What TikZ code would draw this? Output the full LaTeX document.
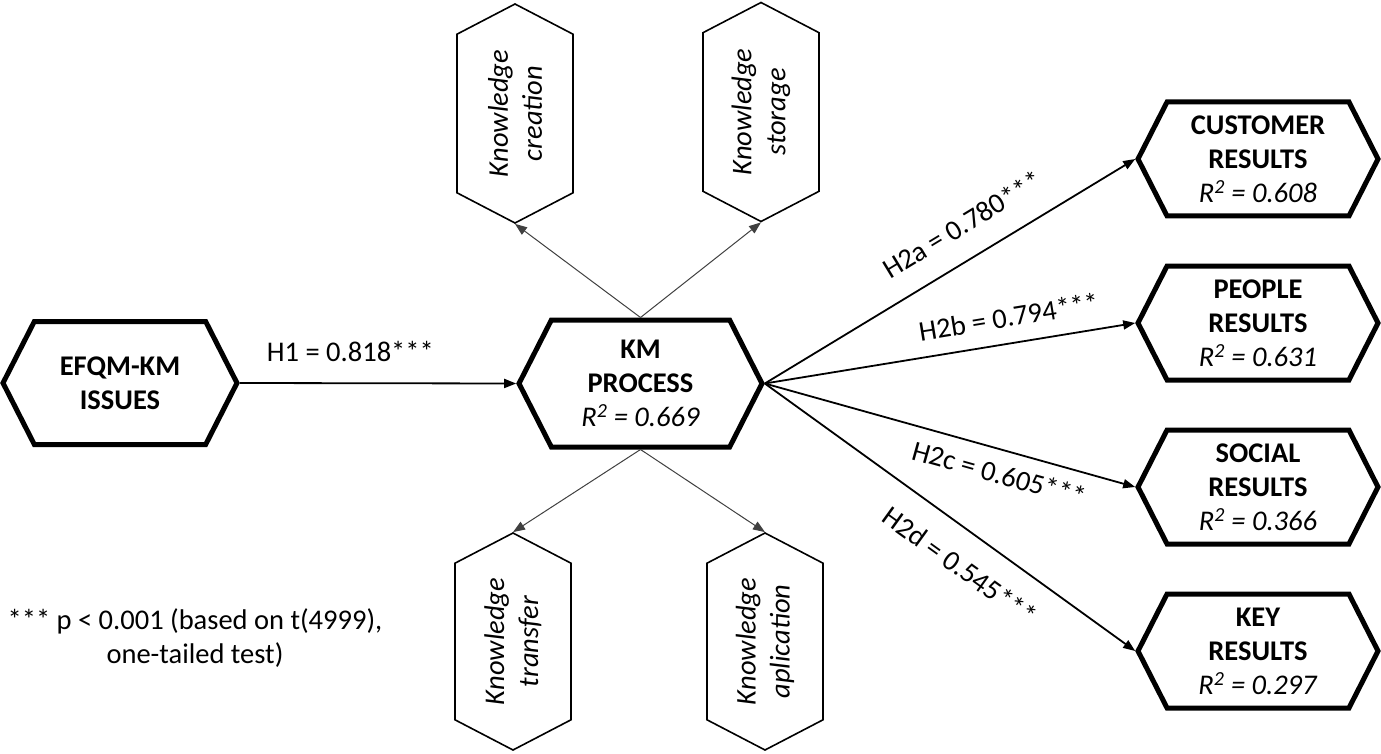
\documentclass[tikz,border=0pt]{standalone}
\usepackage{fontspec}
\setmainfont{Carlito}
\usetikzlibrary{shapes.symbols,arrows.meta,positioning}

\begin{document}
\begin{tikzpicture}[x=1pt, y=-1pt, node distance=45pt,
			every node/.style = {font=\fontsize{28.5}{34}\selectfont, align=center},
			hexbox/.style = {shape=signal, signal to=east and west, signal pointer angle=126,
				draw, line width=5pt, minimum width=240pt, minimum height=114pt, inner sep=0pt},
			knbox/.style = {shape=signal, signal to=east and west, signal pointer angle=125,
				draw, line width=1.6pt, rotate=90, minimum width=219pt, minimum height=116pt,
				inner sep=0pt, font=\fontsize{28.5}{34}\selectfont\itshape},
			mainarrow/.style = {-{Triangle[length=12pt,width=9pt]}, line width=1.8pt},
			subarrow/.style = {-{Triangle[length=12pt,width=9pt]}, line width=1pt, black!75},
			coef/.style = {inner sep=0pt}]
	\useasboundingbox (0,0) rectangle (1381,754);

	\node[hexbox, minimum width=234pt, minimum height=123pt] (efqm) at (120,383)
		{\textbf{EFQM-KM}\\\textbf{ISSUES}};
	\node[hexbox, minimum width=243pt, minimum height=127pt] (km) at (640.5,383.5)
		{\textbf{KM}\\\textbf{PROCESS}\\\textit{R\textsuperscript{2} = 0.669}};

	\node[hexbox] (cust) at (1258,159)
		{\textbf{CUSTOMER}\\\textbf{RESULTS}\\\textit{R\textsuperscript{2} = 0.608}};
	\node[hexbox, below=of cust] (people)
		{\textbf{PEOPLE}\\\textbf{RESULTS}\\\textit{R\textsuperscript{2} = 0.631}};
	\node[hexbox, below=of people] (social)
		{\textbf{SOCIAL}\\\textbf{RESULTS}\\\textit{R\textsuperscript{2} = 0.366}};
	\node[hexbox, below=of social] (key)
		{\textbf{KEY}\\\textbf{RESULTS}\\\textit{R\textsuperscript{2} = 0.297}};

	\node[knbox] (creation) at (515,113.5) {Knowledge\\creation};
	\node[knbox] (storage) at (761,112) {Knowledge\\storage};
	\node[knbox, minimum width=217pt] (transfer) at (513,641.5) {Knowledge\\transfer};
	\node[knbox, minimum width=217pt] (aplication) at (765,641.5) {Knowledge\\aplication};

	\draw[mainarrow] (efqm.east) -- node[coef, above=21pt, pos=0.40] {H1 = 0.818***} (km.west);
	\draw[mainarrow] (km.east) -- node[coef, sloped, above=22.5pt, pos=0.58] {H2a = 0.780***} (cust.west);
	\draw[mainarrow] (km.east) -- node[coef, sloped, above=15.5pt, pos=0.67] {H2b = 0.794***} (people.west);
	\draw[mainarrow] (km.east) -- node[coef, sloped, below=12.5pt, pos=0.65] {H2c = 0.605***} (social.west);
	\draw[mainarrow] (km.east) -- node[coef, sloped, below=22.5pt, pos=0.58] {H2d = 0.545***} (key.west);

	\draw[subarrow] (km.north) -- (creation.west);
	\draw[subarrow] (km.north) -- (storage.west);
	\draw[subarrow] (km.south) -- (transfer.east);
	\draw[subarrow] (km.south) -- (aplication.east);

	\node (note) at (195,638) {*** p < 0.001 (based on t(4999),\\one-tailed test)};
\end{tikzpicture}
\end{document}
